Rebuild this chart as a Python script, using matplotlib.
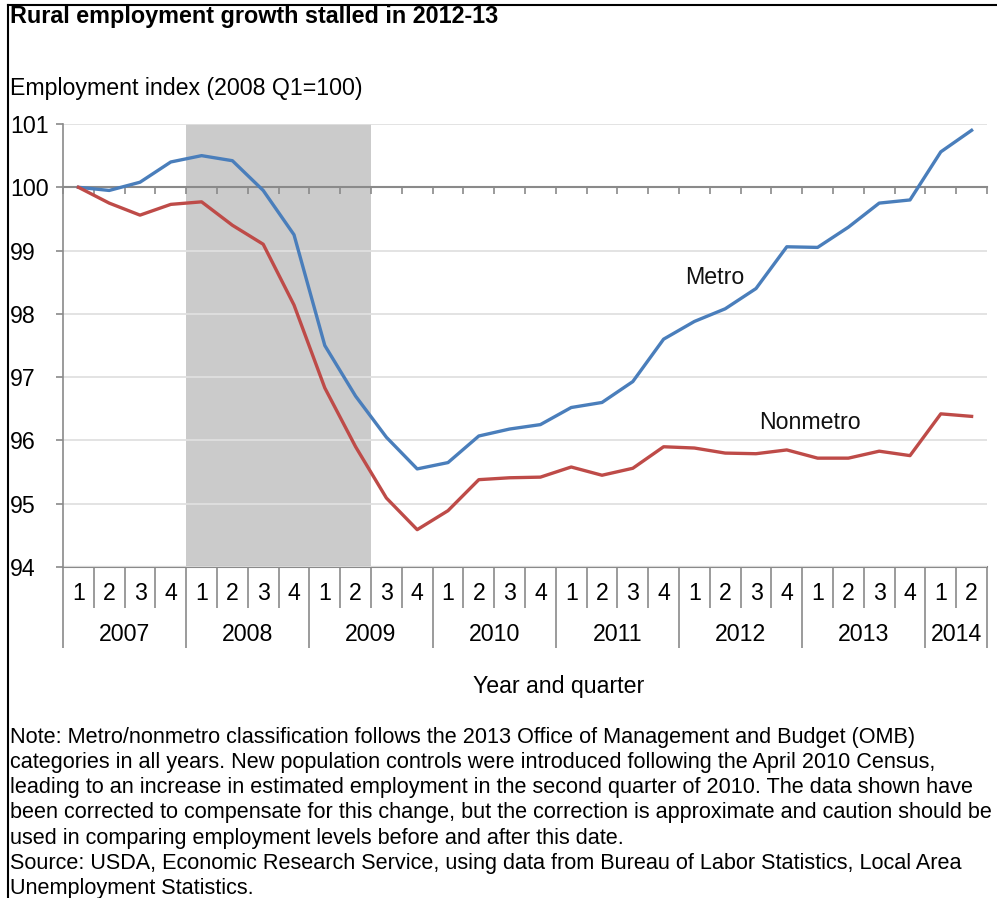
import numpy as np
import matplotlib
matplotlib.use("Agg")
import matplotlib.pyplot as plt
from matplotlib.lines import Line2D

plt.rcParams['font.family'] = ['Liberation Sans', 'DejaVu Sans']

# ---- data ----
years = ["2007", "2008", "2009", "2010", "2011", "2012", "2013", "2014"]
quarters_per_year = [4, 4, 4, 4, 4, 4, 4, 2]
quarter_labels = ["1", "2", "3", "4"] * 7 + ["1", "2"]
metro = [100.00, 99.95, 100.08, 100.40, 100.50, 100.42, 99.95, 99.25,
         97.50, 96.70, 96.05, 95.55, 95.65, 96.07, 96.18, 96.25,
         96.52, 96.60, 96.93, 97.60, 97.88, 98.08, 98.40, 99.06,
         99.05, 99.37, 99.75, 99.80, 100.56, 100.90]
nonmetro = [100.00, 99.75, 99.56, 99.73, 99.77, 99.40, 99.10, 98.14,
            96.83, 95.90, 95.09, 94.59, 94.89, 95.38, 95.41, 95.42,
            95.58, 95.45, 95.56, 95.90, 95.88, 95.80, 95.79, 95.85,
            95.72, 95.72, 95.83, 95.76, 96.42, 96.38]
recession_first_q = 4   # 2008 Q1
recession_last_q = 9    # 2009 Q2
yticks = [94, 95, 96, 97, 98, 99, 100, 101]

title = "Rural employment growth stalled in 2012-13"
ylabel = "Employment index (2008 Q1=100)"
xlabel = "Year and quarter"
note = ("Note: Metro/nonmetro classification follows the 2013 Office of Management and Budget (OMB)\n"
        "categories in all years. New population controls were introduced following the April 2010 Census,\n"
        "leading to an increase in estimated employment in the second quarter of 2010. The data shown have\n"
        "been corrected to compensate for this change, but the correction is approximate and caution should be\n"
        "used in comparing employment levels before and after this date.\n"
        "Source: USDA, Economic Research Service, using data from Bureau of Labor Statistics, Local Area\n"
        "Unemployment Statistics.")

# ---- figure ----
W, H = 997, 898
fig = plt.figure(figsize=(W / 100, H / 100), dpi=100)
ax = fig.add_axes([63 / W, 1 - 567 / H, (987 - 63) / W, (567 - 124) / H])

n = len(metro)
x = np.arange(n) + 0.5
ax.set_xlim(0, n)
ax.set_ylim(yticks[0], yticks[-1])

ax.axvspan(recession_first_q, recession_last_q + 1, color='#cbcbcb', lw=0, zorder=0)
ax.set_yticks(yticks)
ax.yaxis.grid(True, color='#e0e0e0', lw=1.3, zorder=0.5)
ax.set_axisbelow(True)

ax.plot(x, metro, color='#4a7ebb', lw=2.4, zorder=3, solid_joinstyle='round')
ax.plot(x, nonmetro, color='#be4b48', lw=2.4, zorder=3, solid_joinstyle='round')

fs = 16.7
ax.text(21.17, 98.58, "Metro", fontsize=fs, ha='center', va='center', color='#111111')
ax.text(24.25, 96.28, "Nonmetro", fontsize=fs, ha='center', va='center', color='#111111')

axis_gray = '#8a8a8a'
for s in ['top', 'right']:
    ax.spines[s].set_visible(False)
ax.spines['left'].set_color(axis_gray)
ax.spines['left'].set_linewidth(1.2)
ax.spines['bottom'].set_position(('data', 100))
ax.spines['bottom'].set_color(axis_gray)
ax.spines['bottom'].set_linewidth(1.5)
ax.spines['bottom'].set_zorder(2)

ax.set_xticks(np.arange(n + 1))
ax.tick_params(axis='x', direction='out', length=5, width=1.2, color=axis_gray,
               labelbottom=False)
ax.tick_params(axis='y', direction='out', length=5, width=1.2, color=axis_gray,
               labelsize=fs, pad=33)
for lab in ax.get_yticklabels():
    lab.set_horizontalalignment('left')

# category axis at bottom (separators)
bounds = np.concatenate([[0], np.cumsum(quarters_per_year)])
sec = ax.secondary_xaxis(0.0)
sec.spines['bottom'].set_color(axis_gray)
sec.spines['bottom'].set_linewidth(1.5)
sec.set_xticks(bounds)
sec.set_xticks([b for b in range(n + 1) if b not in bounds], minor=True)
sec.tick_params(axis='x', which='major', direction='out', length=58, width=1.2,
                color=axis_gray, labelbottom=False)
sec.tick_params(axis='x', which='minor', direction='out', length=29.5, width=1.2,
                color=axis_gray, labelbottom=False)

# quarter labels
secq = ax.secondary_xaxis(0.0)
secq.spines['bottom'].set_visible(False)
secq.set_xticks(x, quarter_labels)
secq.tick_params(axis='x', length=0, labelsize=fs, pad=10.5)

# year labels
secy = ax.secondary_xaxis(0.0)
secy.spines['bottom'].set_visible(False)
secy.set_xticks((bounds[:-1] + bounds[1:]) / 2, years)
secy.tick_params(axis='x', length=0, labelsize=fs, pad=40)

# texts
fig.text(10 / W, 1 - 17 / H, title, fontsize=16.85, fontweight='bold', va='center', ha='left')
fig.text(10 / W, 1 - 88 / H, ylabel, fontsize=fs, va='center', ha='left')
fig.text(559 / W, 1 - 686 / H, xlabel, fontsize=fs, va='center', ha='center')
fig.text(10 / W, 1 - 727 / H, note, fontsize=15.6, va='top', ha='left', linespacing=1.26)

# frame (left and top)
fig.add_artist(Line2D([8 / W, 8 / W], [0, 1 - 5 / H], color='black', lw=1.5))
fig.add_artist(Line2D([8 / W, 1], [1 - 5 / H, 1 - 5 / H], color='black', lw=1.5))

fig.savefig("out.png", dpi=100)
